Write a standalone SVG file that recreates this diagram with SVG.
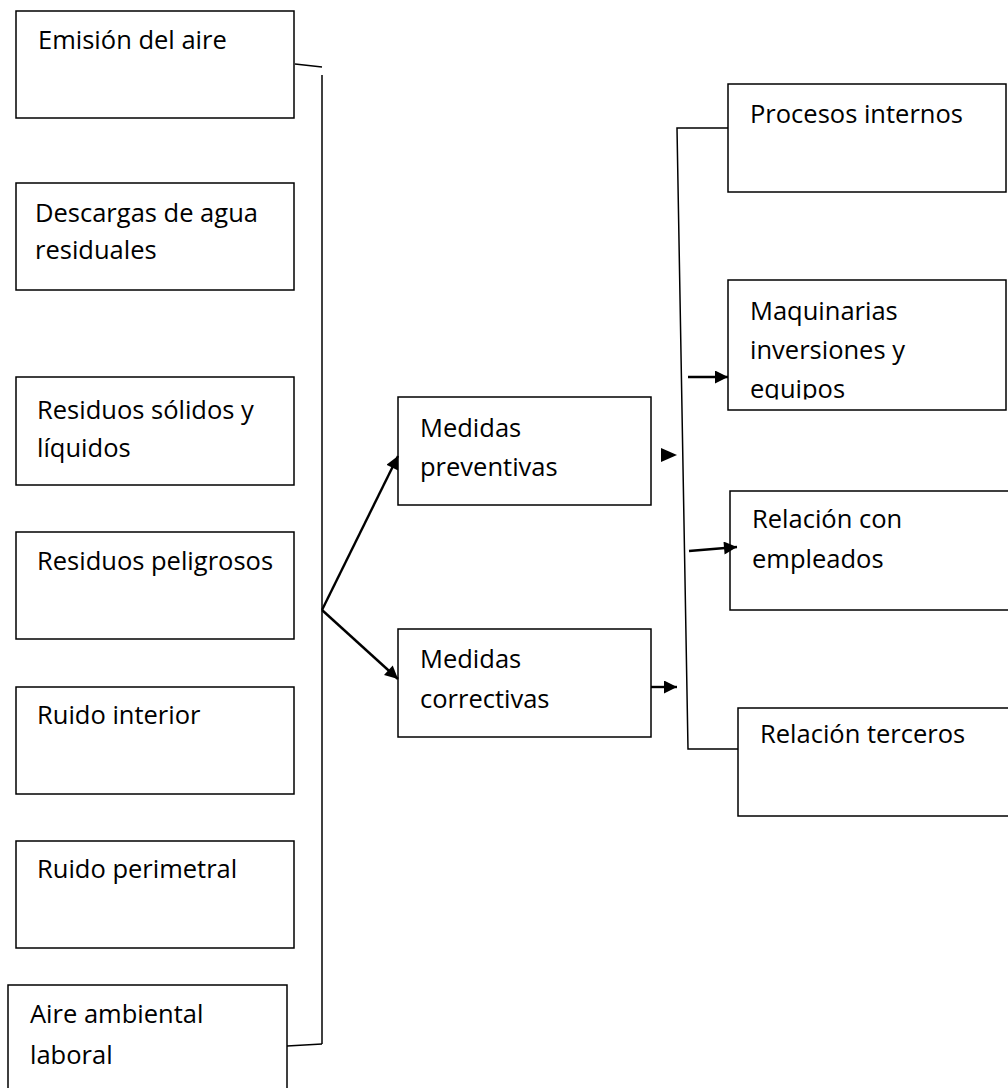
<svg xmlns="http://www.w3.org/2000/svg" width="1008" height="1088" viewBox="0 0 1008 1088">
<style>
.box{fill:#fff;stroke:#000;stroke-width:1.5}
.t{font-family:"Open Sans","Noto Sans","Liberation Sans",sans-serif;font-size:25.5px;fill:#000}
.ln{fill:none;stroke:#000;stroke-width:1.5}
.ar{fill:none;stroke:#000;stroke-width:2.4}
</style>
<defs>
<marker id="ah" viewBox="0 0 10 10" refX="10" refY="5" markerWidth="16" markerHeight="13" markerUnits="userSpaceOnUse" orient="auto">
<path d="M0,0 L10,5 L0,10 Z" fill="#000"/>
</marker>
<clipPath id="cm"><rect x="728" y="280" width="280" height="119.5"/></clipPath>
</defs>
<rect width="1008" height="1088" fill="#fff"/>
<g id="n1"><rect class="box" x="16" y="11" width="278" height="107"/><text class="t" x="38" y="49">Emisión del aire</text></g>
<g id="n2"><rect class="box" x="16" y="183" width="278" height="107"/><text class="t" x="35" y="222">Descargas de agua</text><text class="t" x="35" y="259">residuales</text></g>
<g id="n3"><rect class="box" x="16" y="377" width="278" height="108"/><text class="t" x="37" y="419">Residuos sólidos y</text><text class="t" x="37" y="457">líquidos</text></g>
<g id="n4"><rect class="box" x="16" y="532" width="278" height="107"/><text class="t" x="37" y="570">Residuos peligrosos</text></g>
<g id="n5"><rect class="box" x="16" y="687" width="278" height="107"/><text class="t" x="37" y="724">Ruido interior</text></g>
<g id="n6"><rect class="box" x="16" y="841" width="278" height="107"/><text class="t" x="37" y="878">Ruido perimetral</text></g>
<g id="n7"><rect class="box" x="8" y="985" width="279" height="120"/><text class="t" x="30" y="1023">Aire ambiental</text><text class="t" x="30" y="1064">laboral</text></g>
<g id="n8"><rect class="box" x="398" y="397" width="253" height="108"/><text class="t" x="420" y="437">Medidas</text><text class="t" x="420" y="476">preventivas</text></g>
<g id="n9"><rect class="box" x="398" y="629" width="253" height="108"/><text class="t" x="420" y="668">Medidas</text><text class="t" x="420" y="708">correctivas</text></g>
<g id="n10"><rect class="box" x="728" y="84" width="278" height="108"/><text class="t" x="750" y="123">Procesos internos</text></g>
<g id="n11"><rect class="box" x="728" y="280" width="278" height="130"/><g clip-path="url(#cm)"><text class="t" x="750" y="320">Maquinarias</text><text class="t" x="750" y="359">inversiones y</text><text class="t" x="750" y="398">equipos</text></g></g>
<g id="n12"><rect class="box" x="730" y="491" width="280" height="119"/><text class="t" x="752" y="528">Relación con</text><text class="t" x="752" y="568">empleados</text></g>
<g id="n13"><rect class="box" x="738" y="708" width="272" height="108"/><text class="t" x="760" y="743">Relación terceros</text></g>
<g id="connectors">
<polyline class="ln" points="295,64 322,67"/>
<line class="ln" x1="322" y1="75" x2="322" y2="1044"/>
<polyline class="ln" points="287,1046 322,1044"/>
<line class="ar" x1="322" y1="610" x2="398" y2="456" marker-end="url(#ah)"/>
<line class="ar" x1="322" y1="610" x2="398" y2="679" marker-end="url(#ah)"/>
<path d="M661,448 L677,455 L661,462 Z" fill="#000"/>
<line class="ar" x1="651" y1="687" x2="677" y2="687" marker-end="url(#ah)"/>
<polyline class="ln" points="728,128 677,128 688,749 738,749"/>
<line class="ar" x1="688" y1="377" x2="728" y2="377" marker-end="url(#ah)"/>
<line class="ar" x1="689" y1="551" x2="737" y2="547" marker-end="url(#ah)"/>
</g>
</svg>
